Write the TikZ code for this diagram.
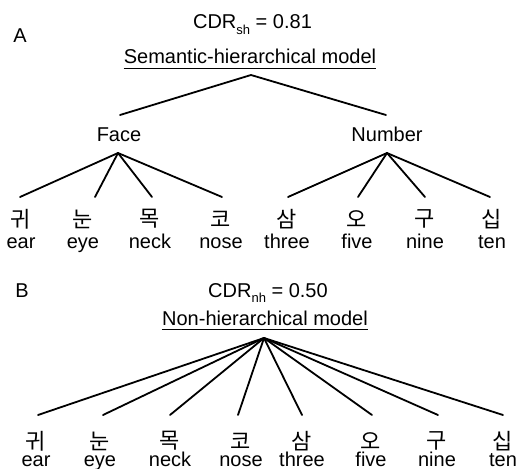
\documentclass[tikz,border=0pt]{standalone}
\usepackage{fontspec}
\setmainfont{Liberation Sans}
\newfontfamily\krfont{Noto Sans CJK KR}
\newcommand\subtxt[1]{\raisebox{-0.28em}{\fontsize{13}{13}\selectfont #1}}
\begin{document}
\begin{tikzpicture}[x=1pt,y=-1pt,
  txt/.style={inner sep=0pt,anchor=base,font=\fontsize{20}{24}\selectfont},
  kor/.style={inner sep=0pt,anchor=center,font=\fontsize{22}{24}\selectfont\krfont},
  edge/.style={line width=1.8pt,line cap=round},
  uline/.style={line width=1pt}]
\useasboundingbox (0,0) rectangle (518,468);
% ---------- Panel A ----------
\node[txt] (labA) at (20,43) {A};
\node[txt] (cdrA) at (252.5,29) {CDR\subtxt{sh} = 0.81};
\node[txt] (modA) at (250,64) {Semantic-hierarchical model};
\draw[uline] ([yshift=-5pt]modA.base west) -- ([yshift=-5pt]modA.base east);
\coordinate (rootA) at (251,75);
\coordinate (faceEnd) at (120,115);
\coordinate (numEnd) at (386,115);
\draw[edge] (faceEnd) -- (rootA) -- (numEnd);
\node[txt] (face) at (119,141) {Face};
\node[txt] (number) at (387,141) {Number};
\coordinate (faceTop) at (118,153);
\coordinate (numTop) at (387,153);
\foreach \i/\x/\lx/\k/\e in {1/21/20/귀/ear,2/83/95/눈/eye,3/150/152/목/neck,4/221/222/코/nose,
                            5/287/288/삼/three,6/357/358/오/five,7/425/425/구/nine,8/492/490/십/ten}{
  \node[kor] (kA\i) at (\x,219) {\k};
  \node[txt] (eA\i) at (\x,248) {\e};
  \coordinate (tA\i) at (\lx,197);
}
\foreach \i in {1,2,3,4}{\draw[edge] (faceTop) -- (tA\i);}
\foreach \i in {5,6,7,8}{\draw[edge] (numTop) -- (tA\i);}
% ---------- Panel B ----------
\node[txt] (labB) at (22,297) {B};
\node[txt] (cdrB) at (268,297) {CDR\subtxt{nh} = 0.50};
\node[txt] (modB) at (265,325) {Non-hierarchical model};
\draw[uline] ([yshift=-4.5pt]modB.base west) -- ([yshift=-4.5pt]modB.base east);
\coordinate (rootB) at (264,338);
\foreach \i/\x/\lx/\k/\e in {1/36/38/귀/ear,2/100/103/눈/eye,3/170/170/목/neck,4/241/238/코/nose,
                            5/302/302/삼/three,6/371/372/오/five,7/437/438/구/nine,8/503/503/십/ten}{
  \node[kor] (kB\i) at (\x,441) {\k};
  \node[txt] (eB\i) at (\x,466) {\e};
  \coordinate (tB\i) at (\lx,415);
  \draw[edge] (rootB) -- (tB\i);
}
\end{tikzpicture}
\end{document}
